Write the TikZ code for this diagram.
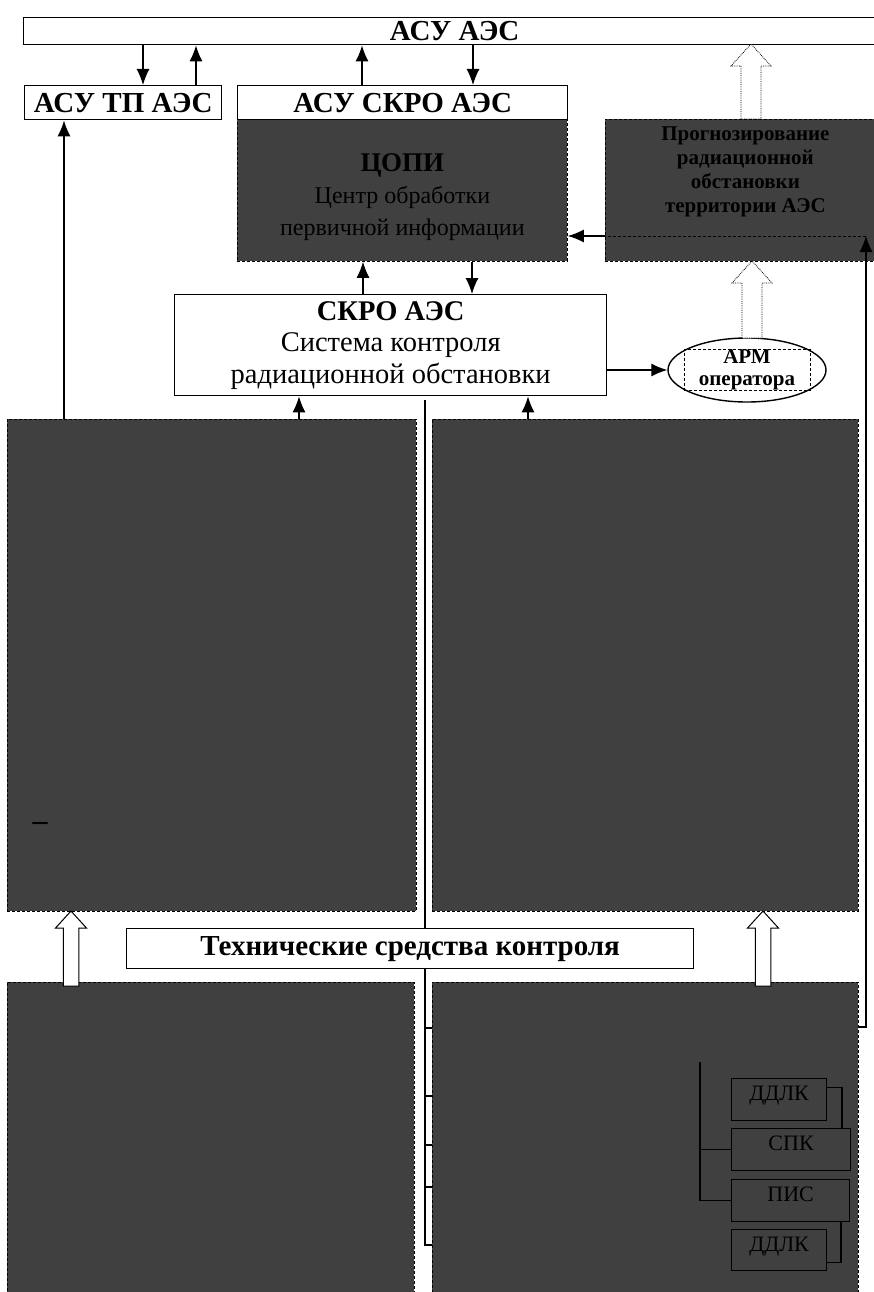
\documentclass[tikz,border=0pt]{standalone}
\usepackage{fontspec}
\setmainfont{Liberation Serif}
\usetikzlibrary{positioning,arrows.meta,shapes.geometric}
\definecolor{darkfill}{HTML}{404040}
\tikzset{>={Latex[length=16pt,width=13pt]}}
\newcommand{\hdfont}{\fontsize{29}{31}\selectfont\bfseries}
\newcommand{\copifont}{\fontsize{24}{32}\selectfont}
\newcommand{\skrofont}{\fontsize{28.5}{31.5}\selectfont}
\newcommand{\progfont}{\fontsize{21}{24}\selectfont\bfseries}
\newcommand{\armfont}{\fontsize{21}{22}\selectfont\bfseries}
\newcommand{\smfont}{\fontsize{22}{24}\selectfont}
\newcommand{\dashfont}{\fontsize{30}{30}\selectfont\bfseries}
% hollow arrow: style, x, y of base, y of tip, width of head
\newcommand{\fatarrow}[5]{\draw[#1] (#2-0.25*#5,#3) -- (#2-0.25*#5,#4+0.55*#5) -- (#2-0.5*#5,#4+0.55*#5) -- (#2,#4) -- (#2+0.5*#5,#4+0.55*#5) -- (#2+0.25*#5,#4+0.55*#5) -- (#2+0.25*#5,#3) -- cycle;}
\tikzset{
  whitebox/.style={draw, fill=white, line width=1.4pt, inner sep=0pt, anchor=north west, font=\hdfont},
  darkbox/.style={draw=black, densely dashed, fill=darkfill, text=black, line width=0.8pt, inner sep=0pt, anchor=north west},
  smallbox/.style={draw=black, text=black, line width=1.2pt, inner sep=0pt, anchor=north west, font=\smfont, text depth=12pt},
  link/.style={line width=1.2pt},
}
\begin{document}
\begin{tikzpicture}[x=1pt,y=-1pt]
\useasboundingbox (0,0) rectangle (874,1292);
\clip (0,0) rectangle (874,1292);

% upper level
\node[whitebox, minimum width=862pt, minimum height=27pt] (asu) at (23,17) {АСУ АЭС};
\node[whitebox, minimum width=197pt, minimum height=34pt] (asutp) at (24,85) {АСУ ТП АЭС};
\node[darkbox, minimum width=330pt, minimum height=142pt] (copi) at (237,119) {};
\node[font=\copifont, text=black, align=center, below=31pt of copi.north] (copitext) {{\fontsize{27}{32}\selectfont\bfseries ЦОПИ}\\Центр обработки\\первичной информации};
\node[whitebox, minimum width=330pt, minimum height=34pt] (asuskro) at (237,85) {АСУ СКРО АЭС};
\node[darkbox, minimum width=280pt, minimum height=142pt] (prog) at (605,119) {};
\node[font=\progfont, text=black, align=center, below=4pt of prog.north] (progtext) {Прогнозирование\\радиационной\\обстановки\\территории АЭС};

% middle level
\node[whitebox, minimum width=432pt, minimum height=101pt, align=center, font=\skrofont] (skro) at (174,294) {\textbf{СКРО АЭС}\\Система контроля\\радиационной обстановки};
\node[ellipse, draw, fill=white, line width=1.4pt, minimum width=158pt, minimum height=64pt, inner sep=0pt] (arm) at (747,370) {};
\node[draw, densely dashed, line width=0.8pt, minimum width=126pt, minimum height=38pt, inner sep=0pt, align=center, font=\armfont] (armtext) at (arm.center) {АРМ\\оператора};

% lower blocks
\node[darkbox, minimum width=409pt, minimum height=492pt] (tl) at (7,419) {};
\node[darkbox, minimum width=426pt, minimum height=492pt] (tr) at (432,419) {};
\node[darkbox, minimum width=407pt, minimum height=330pt] (bl) at (7,982) {};
\node[darkbox, minimum width=426pt, minimum height=330pt] (br) at (432,982) {};
\node[font=\dashfont, text=black] (mark) at (40,826) {–};

% bus
\coordinate (bustop) at (425,400);
\coordinate (busend) at (425,1245);
\draw[link] (bustop) -- (busend) -- (br.west |- busend);
\foreach \y in {1028,1096,1145,1187}
  \draw[link] (425,\y) -- (br.west |- 425,\y);
\node[whitebox, minimum width=567pt, minimum height=40pt] (tech) at (126,928) {Технические средства контроля};

% detectors
\node[smallbox, minimum width=95pt, minimum height=42pt] (ddlka) at (731,1078) {ДДЛК};
\node[smallbox, minimum width=119pt, minimum height=42pt] (spk) at (731,1128) {СПК};
\node[smallbox, minimum width=118pt, minimum height=42pt] (pis) at (731,1179) {ПИС};
\node[smallbox, minimum width=95pt, minimum height=41pt] (ddlkb) at (731,1229) {ДДЛК};
\coordinate (trunk) at (700,1062);
\draw[link] (trunk) -- (trunk |- pis.west) -- (pis.west);
\draw[link] (trunk |- spk.west) -- (spk.west);
\draw[link] ([yshift=12pt]ddlka.east) -| (spk.north -| 842,0);
\draw[link] ([yshift=-12pt]ddlkb.east) -| (pis.south -| 841,0);

% arrows
\draw[link,->] (asu.south -| 143,0) -- (asutp.north -| 143,0);
\draw[link,->] (asutp.north -| 196,0) -- (asu.south -| 196,0);
\draw[link,->] (asuskro.north -| 362,0) -- (asu.south -| 362,0);
\draw[link,->] (asu.south -| 473,0) -- (asuskro.north -| 473,0);
\draw[link,->] (skro.north -| 363,0) -- (copi.south -| 363,0);
\draw[link,->] (copi.south -| 472,0) -- (skro.north -| 472,0);
\draw[link,->] (tl.north -| 64,0) -- (asutp.south -| 64,0);
\draw[link,->] (tl.north -| 299,0) -- (skro.south -| 299,0);
\draw[link,->] (tr.north -| 528,0) -- (skro.south -| 528,0);
\draw[link,->] (skro.east |- arm.west) -- (arm.west);

% feedback
\coordinate (ret) at (866,236);
\draw[link,->] (br.east |- 0,1027) -| (ret);
\draw[densely dashed, line width=1pt] (ret) -- (prog.west |- ret);
\draw[link,->] (prog.west |- ret) -- (copi.east |- ret);

% hollow arrows
\fatarrow{densely dotted, line width=0.8pt, fill=white}{751}{119}{44}{40}
\fatarrow{densely dotted, line width=0.8pt, fill=white}{752}{338}{261}{40}
\fatarrow{fill=white, line width=1pt}{71}{986}{911}{31}
\fatarrow{fill=white, line width=1pt}{763}{986}{911}{31}
\end{tikzpicture}
\end{document}
